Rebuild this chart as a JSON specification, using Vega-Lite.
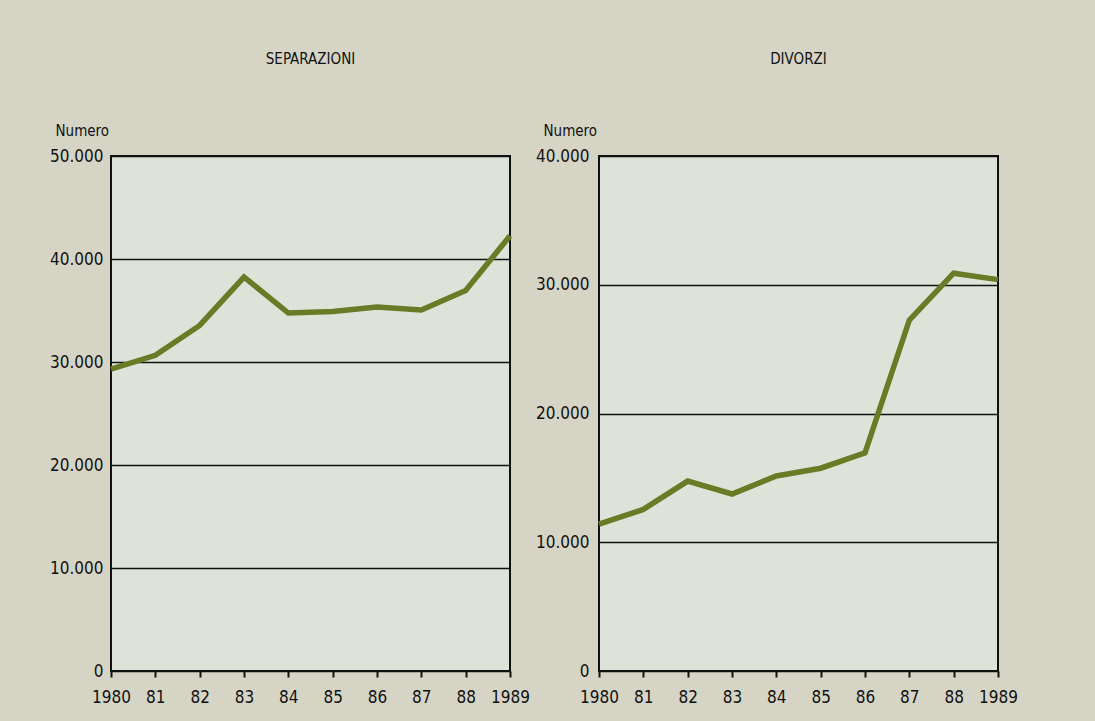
{
  "$schema": "https://vega.github.io/schema/vega-lite/v6.json",
  "background": "#d6d5c5",
  "padding": {"left": 48, "top": 51, "right": 131, "bottom": 15},
  "datasets": {
    "sep": [
      {"anno": 1980, "numero": 29300},
      {"anno": 1981, "numero": 30650},
      {"anno": 1982, "numero": 33550},
      {"anno": 1983, "numero": 38250},
      {"anno": 1984, "numero": 34750},
      {"anno": 1985, "numero": 34900},
      {"anno": 1986, "numero": 35350},
      {"anno": 1987, "numero": 35050},
      {"anno": 1988, "numero": 36950},
      {"anno": 1989, "numero": 42250}
    ],
    "div": [
      {"anno": 1980, "numero": 11400},
      {"anno": 1981, "numero": 12550},
      {"anno": 1982, "numero": 14750},
      {"anno": 1983, "numero": 13750},
      {"anno": 1984, "numero": 15150},
      {"anno": 1985, "numero": 15750},
      {"anno": 1986, "numero": 16950},
      {"anno": 1987, "numero": 27250},
      {"anno": 1988, "numero": 30900},
      {"anno": 1989, "numero": 30400}
    ]
  },
  "config": {
    "font": "DejaVu Sans Condensed",
    "view": {"fill": "#dde3d8", "stroke": "#111111", "strokeWidth": 2},
    "axis": {
      "labelFont": "DejaVu Sans Condensed",
      "labelFontSize": 17,
      "labelColor": "#111111",
      "titleFont": "DejaVu Sans Condensed",
      "titleFontSize": 15,
      "titleFontWeight": "normal",
      "titleColor": "#111111",
      "domain": false
    },
    "title": {"font": "DejaVu Sans Condensed", "fontSize": 15, "fontWeight": "normal", "color": "#111111", "anchor": "middle"},
    "concat": {"spacing": 89}
  },
  "bounds": "flush",
  "hconcat": [
    {
      "width": 399,
      "height": 515,
      "title": {"text": "SEPARAZIONI", "offset": 56},
      "data": {"name": "sep"},
      "mark": {"type": "line", "color": "#6b7a27", "strokeWidth": 5.5, "clip": false},
      "encoding": {
        "x": {
          "field": "anno", "type": "quantitative",
          "scale": {"domain": [1980, 1989], "nice": false, "zero": false},
          "axis": {
            "title": null, "values": [1980,1981,1982,1983,1984,1985,1986,1987,1988,1989],
            "labelExpr": "datum.value == 1980 || datum.value == 1989 ? toString(datum.value) : substring(toString(datum.value), 2)",
            "grid": false, "ticks": true, "tickSize": 6, "tickWidth": 2, "tickColor": "#111111", "labelPadding": 12, "labelFlush": false, "labelOverlap": false
          }
        },
        "y": {
          "field": "numero", "type": "quantitative",
          "scale": {"domain": [0, 50000], "nice": false},
          "axis": {
            "title": "Numero", "titleAngle": 0, "titleAlign": "left", "titleBaseline": "alphabetic", "titleX": -56, "titleY": -21,
            "values": [0, 10000, 20000, 30000, 40000, 50000],
            "labelExpr": "replace(format(datum.value, ','), ',', '.')",
            "grid": true, "gridColor": "#111111", "gridWidth": 1.6, "gridOpacity": 1,
            "ticks": false, "labelPadding": 8
          }
        }
      }
    },
    {
      "width": 399,
      "height": 515,
      "title": {"text": "DIVORZI", "offset": 56},
      "data": {"name": "div"},
      "mark": {"type": "line", "color": "#6b7a27", "strokeWidth": 5.5, "clip": false},
      "encoding": {
        "x": {
          "field": "anno", "type": "quantitative",
          "scale": {"domain": [1980, 1989], "nice": false, "zero": false},
          "axis": {
            "title": null, "values": [1980,1981,1982,1983,1984,1985,1986,1987,1988,1989],
            "labelExpr": "datum.value == 1980 || datum.value == 1989 ? toString(datum.value) : substring(toString(datum.value), 2)",
            "grid": false, "ticks": true, "tickSize": 6, "tickWidth": 2, "tickColor": "#111111", "labelPadding": 12, "labelFlush": false, "labelOverlap": false
          }
        },
        "y": {
          "field": "numero", "type": "quantitative",
          "scale": {"domain": [0, 40000], "nice": false},
          "axis": {
            "title": "Numero", "titleAngle": 0, "titleAlign": "left", "titleBaseline": "alphabetic", "titleX": -56, "titleY": -21,
            "values": [0, 10000, 20000, 30000, 40000],
            "labelExpr": "replace(format(datum.value, ','), ',', '.')",
            "grid": true, "gridColor": "#111111", "gridWidth": 1.6, "gridOpacity": 1,
            "ticks": false, "labelPadding": 10
          }
        }
      }
    }
  ]
}
